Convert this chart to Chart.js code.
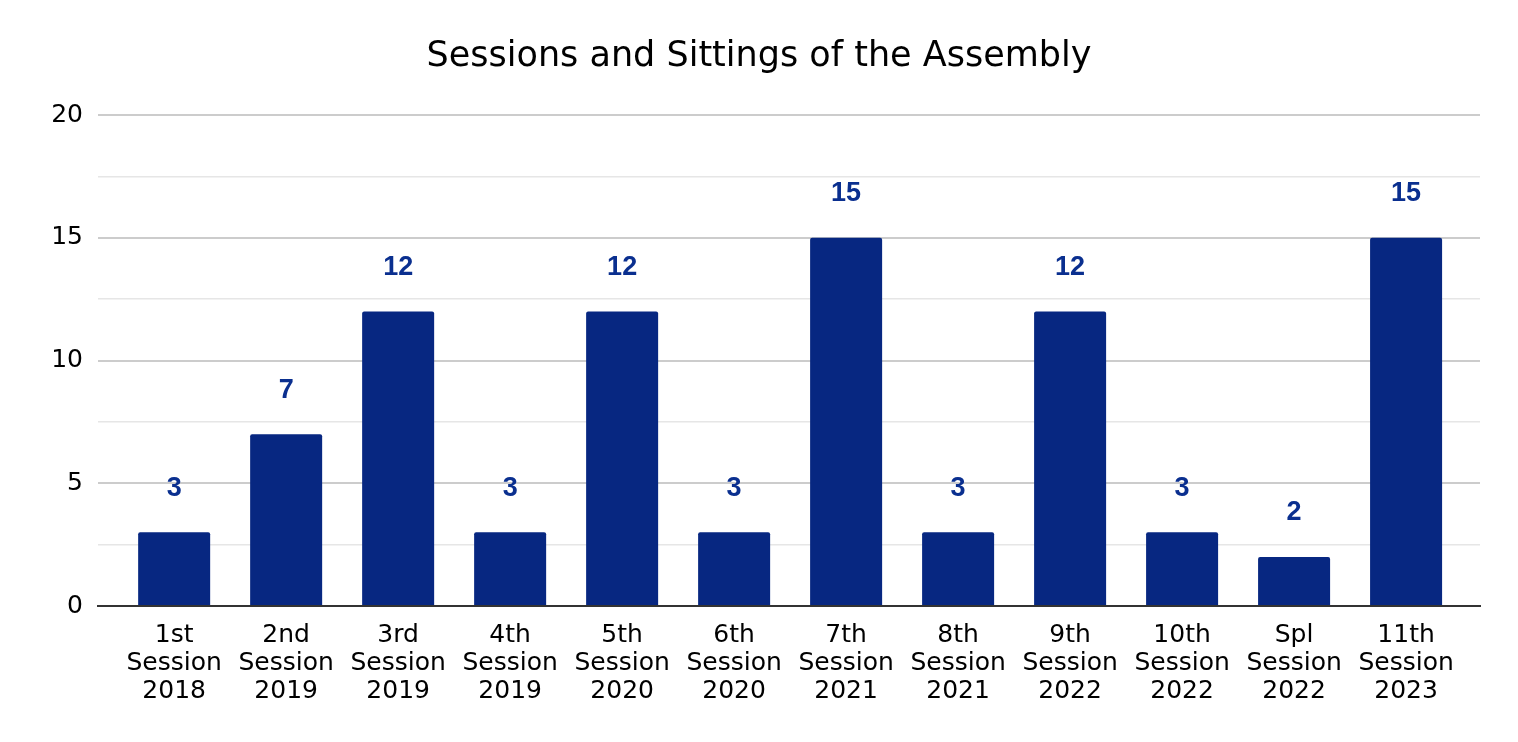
<!DOCTYPE html>
<html>
<head>
<meta charset="utf-8">
<script src="https://cdn.jsdelivr.net/npm/chart.js@4"></script>
<style>
  html, body { margin: 0; padding: 0; background: #fff; }
  #wrap { width: 1518px; height: 742px; }
</style>
</head>
<body>
<div id="wrap"><canvas id="myChart"></canvas></div>
<script>
var sessions = ["1st Session 2018", "2nd Session 2019", "3rd Session 2019", "4th Session 2019",
                "5th Session 2020", "6th Session 2020", "7th Session 2021", "8th Session 2021",
                "9th Session 2022", "10th Session 2022", "Spl Session 2022", "11th Session 2023"];
var sittings = [3, 7, 12, 3, 12, 3, 15, 3, 12, 3, 2, 15];
var yTicks = [0, 5, 10, 15, 20];

var barColor = "#072781";
var labelColor = "#0a2f8f";
var tickFont = "'DejaVu Sans', Verdana, sans-serif";
var labelFont = "'Liberation Sans', Arial, sans-serif";

// value labels above each bar
var valueLabels = {
    id: "valueLabels",
    afterDatasetsDraw: function (chart) {
        var ctx = chart.ctx;
        var meta = chart.getDatasetMeta(0);
        ctx.save();
        ctx.font = "bold 27px " + labelFont;
        ctx.fillStyle = labelColor;
        ctx.textAlign = "center";
        ctx.textBaseline = "middle";
        meta.data.forEach(function (bar, i) {
            ctx.fillText(String(sittings[i]), bar.x, bar.y - 44);
        });
        ctx.restore();
    }
};

new Chart("myChart", {
    type: "bar",
    data: {
        datasets: [{
            data: sittings.map(function (v, i) { return { x: i, y: v }; }),
            backgroundColor: barColor,
            borderRadius: 2,
            borderSkipped: "bottom",
            categoryPercentage: 1,
            barPercentage: 0.643
        }]
    },
    options: {
        responsive: true,
        maintainAspectRatio: false,
        animation: false,
        layout: { padding: { left: 38, right: 38, top: 0, bottom: 0 } },
        plugins: {
            legend: { display: false },
            tooltip: { enabled: false },
            title: {
                display: true,
                text: "Sessions and Sittings of the Assembly",
                color: "#000",
                font: { family: tickFont, size: 35, weight: "normal" },
                padding: { top: 36, bottom: 37 }
            }
        },
        scales: {
            x: {
                type: "linear",
                offset: false,
                min: -0.68,
                max: 11.66,
                afterBuildTicks: function (scale) {
                    scale.ticks = sessions.map(function (s, i) { return { value: i }; });
                },
                afterFit: function (scale) { scale.height = 136; },
                ticks: {
                    color: "#000",
                    font: { family: tickFont, size: 25, lineHeight: 1.12 },
                    padding: 7,
                    maxRotation: 0,
                    autoSkip: false,
                    callback: function (v) {
                        var s = sessions[v];
                        return s ? s.split(" ") : "";
                    }
                },
                grid: { display: false },
                border: { display: true, color: "#333", width: 2 }
            },
            y: {
                min: 0,
                max: 20,
                afterFit: function (scale) { scale.width = 60; },
                ticks: {
                    stepSize: 2.5,
                    color: "#000",
                    font: { family: tickFont, size: 25 },
                    padding: 15,
                    callback: function (v) { return yTicks.indexOf(v) >= 0 ? String(v) : ""; }
                },
                grid: {
                    drawTicks: false,
                    lineWidth: function (c) { return c.tick && yTicks.indexOf(c.tick.value) >= 0 ? 2 : 1.5; },
                    color: function (c) {
                        if (c.tick && c.tick.value === 0) return "#333";
                        return c.tick && yTicks.indexOf(c.tick.value) >= 0 ? "#cccccc" : "#e6e6e6";
                    }
                },
                border: { display: false }
            }
        }
    },
    plugins: [valueLabels]
});
</script>
</body>
</html>
